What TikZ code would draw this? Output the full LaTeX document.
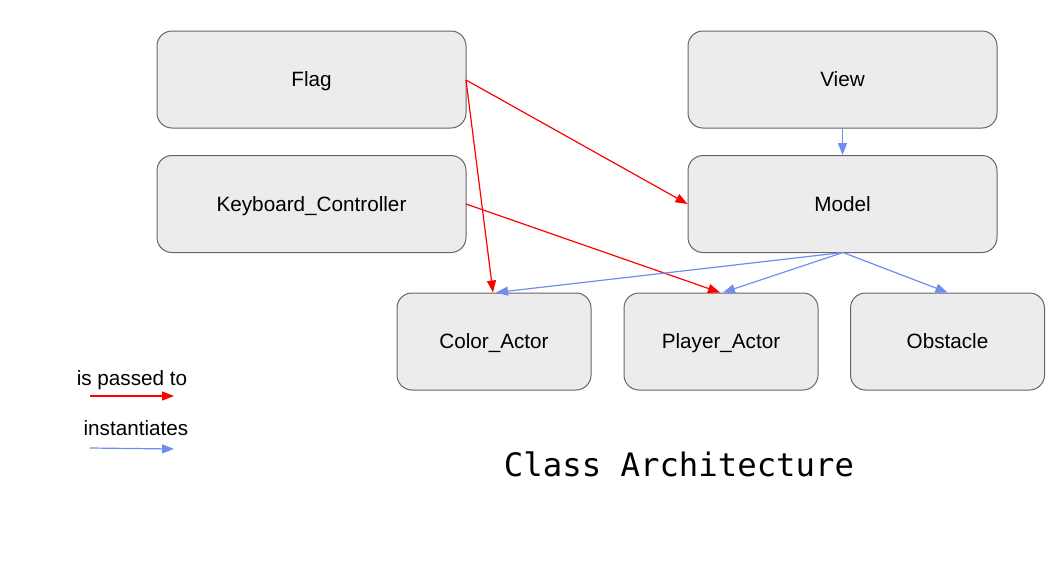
\documentclass[tikz,border=0pt]{standalone}
\usepackage{fontspec}
\setmainfont{Liberation Sans}
\newfontfamily\titlefont{DejaVu Sans Mono}
\usetikzlibrary{arrows.meta}
\definecolor{boxfill}{RGB}{236,236,236}
\definecolor{boxdraw}{RGB}{102,102,102}
\definecolor{passred}{RGB}{255,0,0}
\definecolor{instblue}{RGB}{111,140,238}
\tikzset{
  classbox/.style={draw=boxdraw, fill=boxfill, line width=1pt, rounded corners=15pt, minimum height=97pt, inner sep=0pt, font=\fontsize{20.7}{24}\selectfont, text height=14.9pt, text depth=0pt},
  widebox/.style={classbox, minimum width=309pt},
  smallbox/.style={classbox, minimum width=194pt},
  passes/.style={draw=passred, line width=1.2pt, -{Triangle[length=12pt,width=9pt]}},
  makes/.style={draw=instblue, line width=1.2pt, -{Triangle[length=12pt,width=9pt]}},
  legendtext/.style={font=\fontsize{20.7}{24}\selectfont, inner sep=0pt, text height=14.9pt, text depth=0pt}
}
\begin{document}
\begin{tikzpicture}[x=1pt,y=-1pt]
\useasboundingbox (0,0) rectangle (1054,571);
\node[widebox] (flag) at (311.5,79.5) {Flag};
\node[widebox] (kb) at (311.5,204) {Keyboard\_Controller};
\node[widebox] (view) at (842.5,79.5) {View};
\node[widebox] (model) at (842.5,204) {Model};
\node[smallbox] (color) at (494,341.5) {Color\_Actor};
\node[smallbox] (player) at (721,341.5) {Player\_Actor};
\node[smallbox] (obst) at (947.5,341.5) {Obstacle};

\coordinate (flagR) at (466,80);
\coordinate (kbR) at (466,204);
\coordinate (modelB) at (843,252.5);
\draw[passes] (flagR) -- (model.west);
\draw[passes] (flagR) -- ([xshift=-1pt]color.north);
\draw[passes] (kbR) -- ([xshift=-1pt]player.north);
\draw[makes] (view.south) -- (model.north);
\draw[makes] (modelB) -- ([xshift=2pt]color.north);
\draw[makes] (modelB) -- ([xshift=2pt]player.north);
\draw[makes] (modelB) -- (obst.north);

\node[legendtext] (lp) at (132,378) {is passed to};
\coordinate (lp1) at (90,396);
\coordinate (lp2) at (174,396);
\draw[passes] (lp1) -- (lp2);
\node[legendtext] (li) at (136,428) {instantiates};
\coordinate (li1) at (90,448);
\coordinate (li2) at (174,449);
\draw[makes] (li1) -- (li2);

\node[font=\titlefont\fontsize{32.3}{36}\selectfont, inner sep=0pt] (title) at (679,464) {Class Architecture};
\end{tikzpicture}
\end{document}
